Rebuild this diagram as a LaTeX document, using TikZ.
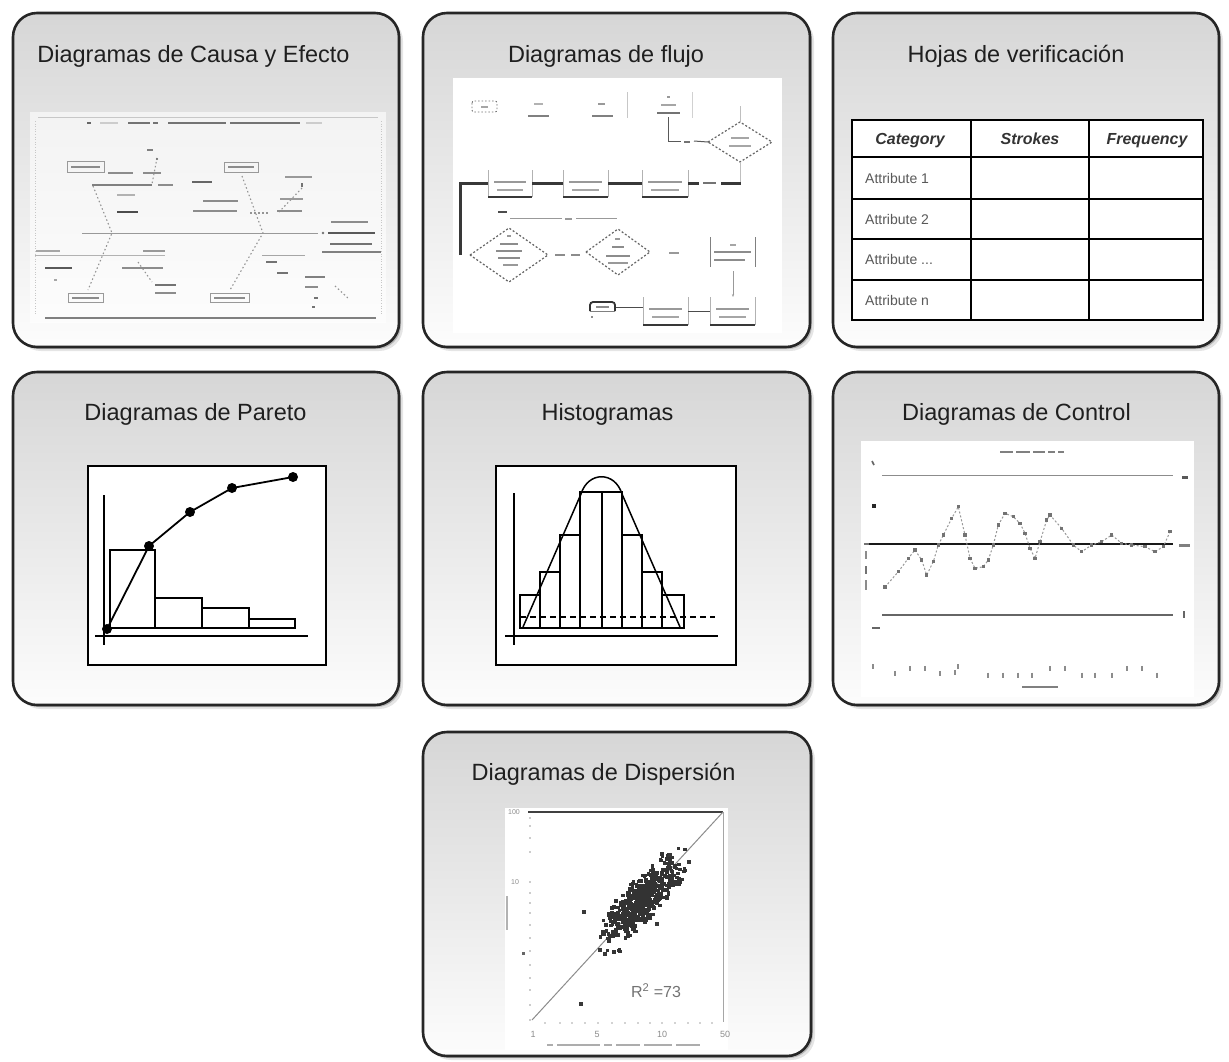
\documentclass[tikz,border=0pt]{standalone}
\usepackage{fontspec}
\setmainfont{Liberation Sans}
\usetikzlibrary{calc,plotmarks,arrows.meta}
\tikzset{
  panel/.style={draw=black!85, line width=2.6pt, rounded corners=24pt, top color=black!16, bottom color=black!1},
  ptitle/.style={font=\fontsize{23.5}{28}\selectfont, text=black!88, inner sep=0pt, anchor=base},
  blot/.style={line width=2.2pt, black!50},
  bone/.style={black!42, line width=1.1pt, dash pattern=on 1.5pt off 2.5pt},
  sbox/.style={draw=black!40, line width=.7pt},
  fdash/.style={black!60, line width=1.2pt, dash pattern=on 2pt off 2pt},
  thickflow/.style={black!78, line width=3pt},
  thinflow/.style={black!40, line width=.7pt},
  chartframe/.style={draw=black, line width=1.8pt, fill=white},
  chartline/.style={black, line width=1.8pt},
  grid/.style={black, line width=1.8pt},
  head/.style={font=\fontsize{16}{19}\selectfont\bfseries\itshape, text=black!80, inner sep=0pt, anchor=base},
  attr/.style={font=\fontsize{14}{17}\selectfont, text=black!65, inner sep=0pt, anchor=base west},
  tick/.style={font=\fontsize{9}{10}\selectfont, text=black!45, inner sep=0pt}
}
% flow-chart box with thin sides and a heavy base line
\newcommand{\docbox}[4]{%
  \draw[black!30, line width=.6pt] (#1,#3) -- (#1,#4) (#2,#3) -- (#2,#4);
  \draw[black!78, line width=2.4pt] (#1,#4) -- (#2,#4);
  \draw[blot, black!40, line width=1.8pt] ({#1+6},{#3+12}) -- ({#2-6},{#3+12});
  \draw[blot, black!35, line width=1.6pt] ({#1+9},{#3+20}) -- ({#2-9},{#3+20});
}
\begin{document}
\begin{tikzpicture}[x=1pt,y=-1pt]
\useasboundingbox (0,0) rectangle (1229,1061);
\fill[white] (0,0) rectangle (1229,1061);

% ---------- panels ----------
\foreach \xa/\ya/\xb/\yb in {13/13/399/347, 423/13/810/347, 833/13/1219/347,
    13/372/399/705, 423/372/810/705, 833/372/1219/705, 423/732/811/1056}{
  \fill[black, opacity=0.10, rounded corners=24pt] (\xa+4,\ya+4) rectangle (\xb+4,\yb+4);
  \fill[black, opacity=0.20, rounded corners=24pt] (\xa+2,\ya+2) rectangle (\xb+2,\yb+2);
  \path[panel] (\xa,\ya) rectangle (\xb,\yb);
}

% ---------- titles ----------
\node[ptitle] (t1) at (193.5,62.5) {Diagramas de Causa y Efecto};
\node[ptitle] (t2) at (606,62) {Diagramas de flujo};
\node[ptitle] (t3) at (1016,62) {Hojas de verificación};
\node[ptitle] (t4) at (195.5,420) {Diagramas de Pareto};
\node[ptitle] (t5) at (607.5,420) {Histogramas};
\node[ptitle] (t6) at (1016.5,420) {Diagramas de Control};
\node[ptitle] (t7) at (603.5,780) {Diagramas de Dispersión};

% ---------- cause and effect sketch ----------
\fill[white, opacity=.6] (30,112) rectangle (386,323);
\draw[black!22, line width=.6pt] (38,117) -- (378,117);
\draw[black!22, line width=.6pt, dotted] (35,121) -- (35,315) (381,121) -- (381,315);
\draw[black!50, line width=1.5pt] (45,318) -- (376,318);
\draw[blot, black!60] (87,123) -- (91,123);
\draw[blot, black!20] (100,123) -- (118,123);
\draw[blot, black!55] (128,123) -- (150,123);
\draw[blot, black!55] (153,123) -- (158,123);
\draw[blot, black!55] (168,123) -- (226,123);
\draw[blot, black!55] (230,123) -- (300,123);
\draw[blot, black!20] (306,123) -- (322,123);
% spine and effect
\coordinate (spL) at (82,233);
\coordinate (spR) at (318,233);
\coordinate (jL) at (112,233);
\coordinate (jR) at (263,233);
\draw[black!40, line width=.9pt] (spL) -- (spR);
\fill[black!55] (323,233) circle (1.3);
\draw[blot, black!45] (331,222) -- (368,222);
\draw[blot, black!65, line width=2.6pt] (328,233) -- (375,233);
\draw[blot, black!55] (330,244) -- (372,244);
\draw[black!50, line width=1.4pt] (322,252) -- (381,252);
% cause boxes
\draw[sbox] (67,161) rectangle (104,172);
\draw[blot, black!45, line width=2pt] (71,166.5) -- (100,166.5);
\draw[sbox] (224,162) rectangle (258,172);
\draw[blot, black!45, line width=2pt] (228,167) -- (254,167);
\draw[sbox] (68,293) rectangle (103,302);
\draw[blot, black!45, line width=2pt] (72,297.5) -- (99,297.5);
\draw[sbox] (210,293) rectangle (249,302);
\draw[blot, black!45, line width=2pt] (214,297.5) -- (245,297.5);
\coordinate (bM) at (93,186);
\coordinate (bMc) at (242,176);
\coordinate (bP) at (88,290);
\coordinate (bPr) at (230,290);
\draw[bone] (bM) -- (jL) -- (bP);
\draw[bone] (bMc) -- (jR) -- (bPr);
% minor bones
\draw[black!50, line width=1.2pt] (92,185) -- (152,185);
\draw[black!30, line width=.8pt] (35,255) -- (165,255);
\draw[black!35, line width=.8pt] (262,255) -- (305,255);
\draw[bone] (157,158) -- (152,184);
\draw[bone] (138,262) -- (152,282);
\draw[bone] (302,188) -- (279,212);
\draw[bone] (335,286) -- (348,298);
\draw[bone] (250,213) -- (270,213);
% small labels on the bones
\draw[blot] (147,150) -- (153,150);
\fill[black!60] (157,159) circle (1.2);
\draw[blot, black!45] (108,173) -- (133,173);
\draw[blot, black!45] (143,173) -- (161,173);
\draw[blot, black!45] (158,185) -- (173,185);
\draw[blot, black!30] (117,195) -- (135,195);
\draw[blot, black!70, line width=2.8pt] (117,212) -- (138,212);
\draw[blot, black!60] (192,182) -- (212,182);
\draw[blot, black!45] (203,201) -- (238,201);
\draw[blot, black!45] (193,211) -- (237,211);
\draw[blot, black!40] (285,177) -- (312,177);
\draw[blot, black!55] (302,183) -- (302,187);
\draw[blot, black!40] (280,199) -- (303,199);
\draw[blot, black!45] (277,211) -- (302,211);
\draw[blot, black!35] (36,251) -- (60,251);
\draw[blot, black!65] (45,268) -- (72,268);
\draw[blot, black!35] (54,280) -- (57,280);
\draw[blot, black!40] (143,251) -- (165,251);
\draw[blot, black!45] (122,268) -- (163,268);
\draw[blot, black!55] (155,285) -- (176,285);
\draw[blot, black!45] (155,293) -- (176,293);
\draw[blot, black!55] (266,262) -- (277,262);
\draw[blot, black!55] (277,273) -- (288,273);
\draw[blot, black!50] (305,277) -- (325,277);
\draw[blot, black!45] (305,287) -- (318,287);
\draw[blot, black!55] (314,298) -- (318,298);
\draw[blot, black!55] (312,307) -- (315,307);

% ---------- flow chart sketch ----------
\fill[white] (453,78) rectangle (782,333);
\draw[black!55, line width=.9pt, dash pattern=on 1.5pt off 2pt, rounded corners=2pt] (472,101) rectangle (497,112);
\draw[blot, black!35, line width=2pt] (481,106.5) -- (488,106.5);
\draw[blot, black!30, line width=2pt] (534,104) -- (543,104);
\draw[blot, black!50, line width=2pt] (528,116) -- (549,116);
\draw[blot, black!40, line width=2pt] (598,104) -- (605,104);
\draw[blot, black!50, line width=2pt] (592,116) -- (613,116);
\draw[black!22, line width=.6pt] (627,92) -- (627,118);
\draw[black!18, line width=.6pt] (692,92) -- (692,118);
\draw[blot, black!40, line width=1.6pt] (667,97) -- (670,97);
\draw[blot, black!35, line width=1.8pt] (661,105) -- (676,105);
\draw[blot, black!55, line width=1.8pt] (657,113) -- (680,113);
% first decision
\coordinate (d1) at (740,142);
\coordinate (d1w) at (708,142);
\coordinate (d1n) at (740,122);
\coordinate (d1e) at (772,142);
\coordinate (d1s) at (740,162);
\coordinate (s3) at (668,117);
\draw[fdash] (d1w) -- (d1n) -- (d1e) -- (d1s) -- cycle;
\draw[blot, black!35, line width=1.6pt] (731,138) -- (749,138);
\draw[blot, black!35, line width=1.6pt] (729,146) -- (751,146);
\draw[black!65, line width=1pt] (s3) |- (681,141);
\draw[blot, black!55, line width=1.8pt] (684,142) -- (690,142);
\draw[black!65, line width=1pt] (694,141) -- (d1w);
\draw[black!25, line width=.6pt] (d1n) -- (740,106);
\draw[black!25, line width=.6pt] (d1s) -- (740,183);
% main line with process boxes
\docbox{488}{532}{170}{197}
\docbox{563}{608}{170}{197}
\docbox{642}{688}{170}{197}
\draw[thickflow] (460,255) -- (460,183) -- (488,183);
\draw[thickflow] (532,183) -- (563,183);
\draw[thickflow] (608,183) -- (642,183);
\draw[thickflow] (688,183) -- (699,183);
\draw[blot, black!55, line width=2pt] (703,183) -- (716,183);
\draw[thickflow] (721,183) -- (741,183);
% return branch
\draw[thinflow] (510,218) -- (562,218);
\draw[blot, black!40, line width=1.6pt] (565,219) -- (572,219);
\draw[thinflow] (576,218) -- (617,218);
\draw[blot, black!70, line width=2.4pt] (498,212) -- (507,212);
% second row of decisions
\coordinate (d2w) at (470,255);
\coordinate (d2n) at (509,228);
\coordinate (d2e) at (548,255);
\coordinate (d2s) at (509,282);
\draw[fdash] (d2w) -- (d2n) -- (d2e) -- (d2s) -- cycle;
\draw[blot, black!40, line width=1.6pt] (507,236) -- (511,236);
\draw[blot, black!45, line width=1.6pt] (500,244) -- (518,244);
\draw[blot, black!45, line width=1.6pt] (496,251) -- (522,251);
\draw[blot, black!45, line width=1.6pt] (498,258) -- (520,258);
\draw[blot, black!40, line width=1.6pt] (503,265) -- (518,265);
\draw[blot, black!45, line width=1.8pt] (555,255) -- (565,255);
\draw[blot, black!45, line width=1.8pt] (571,255) -- (580,255);
\coordinate (d3w) at (586,252);
\coordinate (d3n) at (618,229);
\coordinate (d3e) at (650,252);
\coordinate (d3s) at (618,275);
\draw[fdash] (d3w) -- (d3n) -- (d3e) -- (d3s) -- cycle;
\draw[blot, black!40, line width=1.6pt] (615,239) -- (620,239);
\draw[blot, black!45, line width=1.6pt] (612,247) -- (624,247);
\draw[blot, black!45, line width=1.6pt] (606,256) -- (630,256);
\draw[blot, black!40, line width=1.6pt] (608,263) -- (628,263);
\draw[blot, black!40, line width=1.8pt] (669,253) -- (679,253);
% right column
\draw[black!50, line width=.8pt] (710,237) -- (710,267) (755,237) -- (755,267);
\draw[blot, black!35, line width=1.5pt] (730,245) -- (736,245);
\draw[blot, black!45, line width=1.6pt] (714,252) -- (751,252);
\draw[blot, black!45, line width=1.6pt] (714,260) -- (745,260);
\coordinate (b4s) at (733,271);
\coordinate (b5n) at (733,297);
\draw[thinflow, -{Stealth[length=3pt]}] (b4s) -- (b5n);
\docbox{710}{755}{297}{325}
\docbox{643}{688}{297}{325}
\draw[black!70, line width=1pt] (688,311) -- (710,311);
\draw[black!70, line width=1pt] (615,307) -- (643,307);
\draw[black!80, line width=1.8pt, rounded corners=3pt] (590,311) -- (590,302) -- (615,302) -- (615,311);
\draw[black!50, line width=.8pt] (590,311) -- (615,311);
\draw[blot, black!45, line width=1.6pt] (596,307) -- (609,307);
\draw[blot, black!45, line width=1.4pt] (592,316) -- (592,318);

% ---------- check sheet ----------
\fill[white] (852,120) rectangle (1203,320);
\foreach \yy in {157,199,239,280} \draw[grid] (852,\yy) -- (1203,\yy);
\foreach \xx in {971,1089} \draw[grid] (\xx,120) -- (\xx,320);
\draw[grid] (852,120) rectangle (1203,320);
\node[head] (hc) at (910,144) {Category};
\node[head] (hs) at (1030,144) {Strokes};
\node[head] (hf) at (1147,144) {Frequency};
\node[attr] (a1) at (865,183) {Attribute 1};
\node[attr] (a2) at (865,224) {Attribute 2};
\node[attr] (a3) at (865,264) {Attribute ...};
\node[attr] (a4) at (865,305) {Attribute n};

% ---------- Pareto chart ----------
\draw[chartframe] (88,466) rectangle (326,665);
\draw[chartline, line width=1.5pt] (104,495) -- (104,645);
\draw[chartline, line width=1.5pt] (95,636) -- (308,636);
\draw[chartline] (110,628) rectangle (155,550);
\draw[chartline] (155,628) rectangle (202,598);
\draw[chartline] (202,628) rectangle (249,608);
\draw[chartline] (249,628) rectangle (295,619);
\draw[chartline] (107,629) -- (149,546) -- (190,512) -- (232,488) -- (293,477);
\foreach \px/\py in {107/629, 149/546, 190/512, 232/488, 293/477}
  \fill[black] (\px,\py) circle (5);

% ---------- histogram ----------
\draw[chartframe] (496,466) rectangle (736,665);
\draw[chartline, line width=1.5pt] (514,493) -- (514,645);
\draw[chartline, line width=1.5pt] (505,636) -- (718,636);
\foreach \xl/\xr/\yt in {520/540/595, 540/560/572, 560/580/535, 580/601.7/492,
    601.7/621.7/492, 621.7/641.7/535, 641.7/661.7/572, 661.7/684/595}
  \draw[chartline] (\xl,628) rectangle (\xr,\yt);
\draw[black, line width=1.5pt] (523,627) -- (581,494) .. controls (588,471) and (615,471) .. (622,494) -- (680,627);
\draw[black, line width=1.6pt, dash pattern=on 6pt off 4pt] (520,617) -- (715,617);

% ---------- control chart ----------
\fill[white] (861,441) rectangle (1194,697);
\foreach \xa/\xb in {1000/1013, 1016/1030, 1033/1045, 1048/1055, 1058/1064}
  \draw[blot, black!50, line width=2.4pt] (\xa,452) -- (\xb,452);
\draw[black!45, line width=.8pt] (882,475) -- (1173,475);
\draw[black!90, line width=2.6pt] (865,544) -- (1173,544);
\draw[black!60, line width=1.5pt] (882,615) -- (1173,615);
\draw[black!40, line width=1pt, dash pattern=on 2pt off 2pt,
  mark=square*, mark size=1.1pt, mark options={black!55, solid}] plot coordinates {
  (885,587) (898.3,571.7) (908.3,558.3) (915,550) (921.7,560) (926.7,575) (933.3,561.7)
  (938.3,545) (943.3,535) (951.7,518.3) (958.3,506.7) (965,535) (970,558.3) (975,568.3)
  (983.3,566.7) (988.3,560) (993.3,545) (998.3,525) (1005,513.3) (1013.3,516.7) (1020,523.3)
  (1025,533.3) (1030,548.3) (1035,558.3) (1040,541.7) (1046.7,520) (1050,515) (1061.7,528.3)
  (1073.3,545) (1081.7,551.7) (1091.7,545) (1101.7,541.7) (1111.7,535) (1121.7,543.3)
  (1131.7,545) (1145,546.7) (1155,551.7) (1163.3,546.7) (1170,531.7)};
\draw[blot, black!60, line width=1.6pt] (872,461) -- (874,465);
\fill[black!85] (871.5,503.5) rectangle (875.5,507.5);
\draw[blot, black!55, line width=2pt] (864,544) -- (869,544);
\draw[blot, black!45, line width=2pt] (866,551) -- (866,559);
\draw[blot, black!55, line width=2pt] (866,566) -- (866,574);
\draw[blot, black!45, line width=2pt] (866,580) -- (866,590);
\draw[blot, black!60, line width=1.2pt] (872,628) -- (880,628);
\draw[blot, black!65, line width=3pt] (1182,477) -- (1188,477);
\draw[blot, black!50, line width=3pt] (1179,545) -- (1190,545);
\draw[blot, black!60, line width=1.6pt] (1184,611) -- (1184,618);
\foreach \zx/\zy in {55/695, 120/715, 165/700, 210/700, 255/715, 300/712, 310/695,
    400/720, 445/720, 490/720, 530/720, 585/700, 630/700, 680/720, 720/720,
    770/720, 815/700, 860/700, 905/720}
  \draw[blot, black!45, line width=2pt] ({855+\zx/3},{435+\zy/3-2.5}) -- ({855+\zx/3},{435+\zy/3+2.5});
\draw[blot, black!50, line width=2.4pt] (1022,687) -- (1058,687);

% ---------- scatter plot ----------
\fill[white] (505,808) rectangle (728,1050);
\draw[black!75, line width=1.8pt] (528,812) -- (723,812);
\draw[black!35, line width=.9pt] (723,812) -- (723,1022);
\coordinate (fitA) at (532,1020);
\coordinate (fitB) at (723,812);
\draw[black!45, line width=1pt] (fitA) -- (fitB);
\foreach \yy in {818,826,838,852,882,893,903,913,925,938,951,965,978,990,1005,1020}
  \fill[black!40] (530,\yy) circle (.9);
\foreach \xx in {545,560,572,585,598,612,625,638,650,662,675,688,700,712}
  \fill[black!35] (\xx,1023) circle (.9);
\pgfmathsetseed{11}
\foreach \i in {1,...,620}{
  \pgfmathsetmacro{\u}{24*(rand+rand+rand)+6}
  \pgfmathsetmacro{\v}{10*(rand+rand)}
  \fill[black!80] ({636+0.676*\u+0.736*\v},{903-0.736*\u+0.676*\v}) rectangle +(3.4,3.4);
}
\foreach \px/\py in {582/910, 579/1002, 668/853, 687/860, 655/922, 598/948, 603/952}
  \fill[black!78] (\px,\py) rectangle +(3.6,3.6);
\fill[black!60] (522,952) rectangle +(3,3);
\node[tick, font=\fontsize{7}{8}\selectfont] (ly1) at (514,812) {100};
\node[tick, font=\fontsize{7}{8}\selectfont] (ly2) at (515,882) {10};
\node[tick] (lx1) at (533,1034) {1};
\node[tick] (lx2) at (597,1034) {5};
\node[tick] (lx3) at (662,1034) {10};
\node[tick] (lx4) at (725,1034) {50};
\draw[blot, black!30, line width=2pt] (507,896) -- (507,930);
\foreach \xa/\xb in {547/553, 557/600, 604/612, 616/640, 644/672, 676/700}
  \draw[blot, black!32, line width=2.2pt] (\xa,1045) -- (\xb,1045);
\node[font=\fontsize{16}{18}\selectfont, text=black!55, inner sep=0pt] (r2) at (656,991) {R\textsuperscript{2} =73};
\end{tikzpicture}
\end{document}
